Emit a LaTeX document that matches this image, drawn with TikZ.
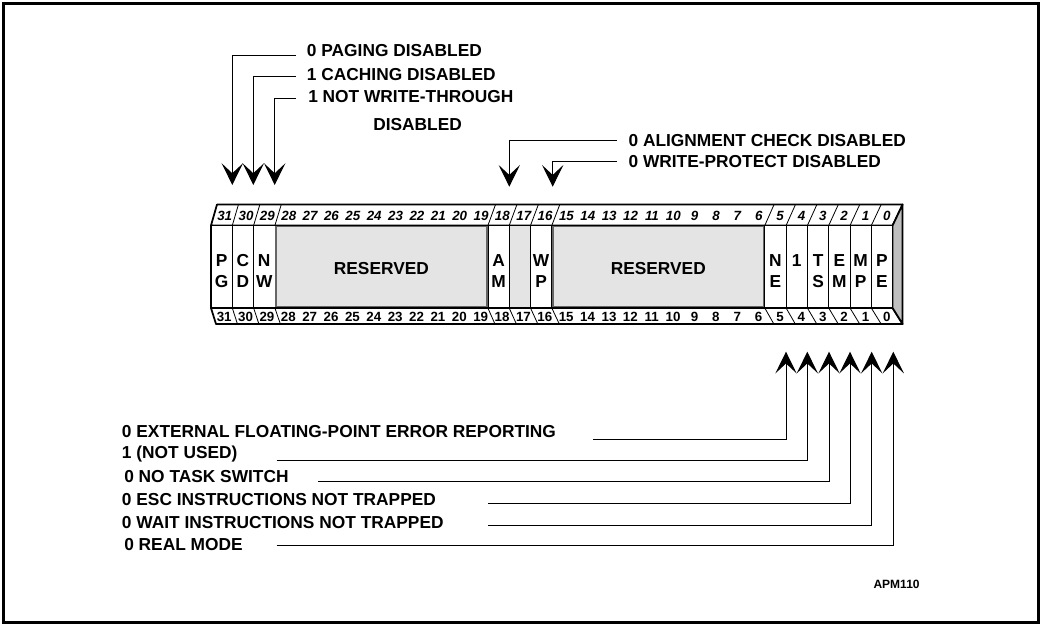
\documentclass[tikz,border=0pt]{standalone}
\usepackage{fontspec}
\setmainfont{Liberation Sans}
\usetikzlibrary{arrows.meta,calc}
\definecolor{resgray}{HTML}{E4E4E4}
\definecolor{sidegray}{HTML}{BFBFBF}
\begin{document}
\begin{tikzpicture}[x=0.75pt,y=-0.75pt,
  lbl/.style={font=\fontsize{13}{15}\selectfont\bfseries, inner sep=0pt, anchor=west},
  celltxt/.style={font=\fontsize{13}{15.6}\selectfont\bfseries, inner sep=0pt, align=center},
  cellbox/.style={draw, line width=0.6pt, minimum width=15.975pt, minimum height=61.875pt, inner sep=0pt, fill=white},
  resbox/.style={draw=black!60, line width=1.3pt, fill=resgray, minimum width=158.4pt, minimum height=60.6pt, inner sep=0pt},
  topnum/.style={font=\fontsize{10}{12}\selectfont\bfseries\itshape, inner sep=0pt},
  botnum/.style={font=\fontsize{10}{12}\selectfont\bfseries, inner sep=0pt},
  outline/.style={line width=1.3pt, line join=round},
  divider/.style={line width=0.6pt},
  arr/.style={line width=0.75pt, -{Stealth[length=16.3pt,width=16pt,inset=7.5pt]}},
]
\useasboundingbox (0,0) rectangle (1042,626);
\draw[line width=1.8pt] (3.5,3.5) rectangle (1038.5,622.5);

\def\Lx{211}
\def\Wd{21.3}
\def\Rx{892.6}

% top face, bottom face, side face
\draw[outline, fill=white] (\Lx,225.5) -- (\Lx+6,204.5) -- (\Rx+10,204.5) -- (\Rx,225.5) -- cycle;
\draw[outline, fill=white] (\Lx,308) -- (\Lx+5,324) -- (\Rx+10,324) -- (\Rx,308) -- cycle;
\draw[outline, fill=sidegray] (\Rx,225.5) -- (\Rx+10,204.5) -- (\Rx+10,324) -- (\Rx,308) -- cycle;

% front face cells
\node[cellbox] (pg) at (221.65,266.75) {};
\node[cellbox] (cd) at (242.95,266.75) {};
\node[cellbox] (nw) at (264.25,266.75) {};
\node[cellbox, minimum width=159.75pt] (resA) at (381.4,266.75) {};
\node[resbox] (resAin) at (381.4,266.75) {};
\node[cellbox] (am) at (498.55,266.75) {};
\node[cellbox, fill=resgray] (b17) at (519.85,266.75) {};
\node[cellbox] (wp) at (541.15,266.75) {};
\node[cellbox, minimum width=159.75pt] (resB) at (658.3,266.75) {};
\node[resbox] (resBin) at (658.3,266.75) {};
\node[cellbox] (ne) at (775.45,266.75) {};
\node[cellbox] (one) at (796.75,266.75) {};
\node[cellbox] (ts) at (818.05,266.75) {};
\node[cellbox] (em) at (839.35,266.75) {};
\node[cellbox] (mp) at (860.65,266.75) {};
\node[cellbox] (pe) at (881.95,266.75) {};
\draw[outline] (\Lx,225.5) rectangle (\Rx,308);

% cell texts
\node[celltxt] (tpg) at ([yshift=-3pt]pg.center) {P\\G};
\node[celltxt] (tcd) at ([yshift=-3pt]cd.center) {C\\D};
\node[celltxt] (tnw) at ([yshift=-3pt]nw.center) {N\\W};
\node[celltxt] (tresA) at ([yshift=-1.2pt]resA.center) {RESERVED};
\node[celltxt] (tam) at ([yshift=-3pt]am.center) {A\\M};
\node[celltxt] (twp) at ([yshift=-3pt]wp.center) {W\\P};
\node[celltxt] (tresB) at ([yshift=-1.2pt]resB.center) {RESERVED};
\node[celltxt] (tne) at ([yshift=-3pt]ne.center) {N\\E};
\node[celltxt] (tone) at ([yshift=-3pt]one.center) {1\\\phantom{1}};
\node[celltxt] (tts) at ([yshift=-3pt]ts.center) {T\\S};
\node[celltxt] (tem) at ([yshift=-3pt]em.center) {E\\M};
\node[celltxt] (tmp) at ([yshift=-3pt]mp.center) {M\\P};
\node[celltxt] (tpe) at ([yshift=-3pt]pe.center) {P\\E};

% strip dividers
\foreach \i in {1,2,3,13,14,15,16,26,27,28,29,30,31}{
  \pgfmathsetmacro\xa{\Lx+\i*\Wd}
  \pgfmathsetmacro\dt{6+4*\i/32}
  \pgfmathsetmacro\db{5+5*\i/32}
  \draw[divider] (\xa,225.5) -- (\xa+\dt,204.5);
  \draw[divider] (\xa,308) -- (\xa+\db,324);
}
% bit numbers
\foreach \b in {0,...,31}{
  \pgfmathsetmacro\ic{31-\b+0.5}
  \pgfmathsetmacro\xc{\Lx+\ic*\Wd}
  \pgfmathsetmacro\dt{6+4*\ic/32}
  \pgfmathsetmacro\db{5+5*\ic/32}
  \node[topnum] (tn\b) at (\xc+\dt/2,215.5) {\b};
  \node[botnum] (bn\b) at (\xc+\db/2,316.5) {\b};
}

% top labels
\node[lbl] (lPG) at (306.7,50.8) {0 PAGING DISABLED};
\node[lbl] (lCD) at (306.7,74.2) {1 CACHING DISABLED};
\node[lbl] (lNW) at (308,96.3) {1 NOT WRITE-THROUGH};
\node[lbl] (lNW2) at (373,125) {DISABLED};
\node[lbl] (lAM) at (628.3,140.8) {0 ALIGNMENT CHECK DISABLED};
\node[lbl] (lWP) at (628.3,161.7) {0 WRITE-PROTECT DISABLED};

% bottom labels
\node[lbl] (lNE) at (121.7,431.7) {0 EXTERNAL FLOATING-POINT ERROR REPORTING};
\node[lbl] (lONE) at (121.7,454) {1 (NOT USED)};
\node[lbl] (lTS) at (124,476.7) {0 NO TASK SWITCH};
\node[lbl] (lEM) at (121.7,500) {0 ESC INSTRUCTIONS NOT TRAPPED};
\node[lbl] (lMP) at (121.7,522.7) {0 WAIT INSTRUCTIONS NOT TRAPPED};
\node[lbl] (lPE) at (124,545) {0 REAL MODE};
\node[font=\fontsize{9}{11}\selectfont\bfseries, inner sep=0pt, anchor=west] (apm) at (873.3,584.2) {APM110};

% connector coordinates
\coordinate (sPG) at (296,55);
\coordinate (sCD) at (296,76.7);
\coordinate (sNW) at (296,98.3);
\coordinate (sAM) at (616.7,140.7);
\coordinate (sWP) at (616.7,161.7);
\coordinate (aPG) at (232.3,185);
\coordinate (aCD) at (253.3,185);
\coordinate (aNW) at (274.7,185);
\coordinate (aAM) at (509.3,186.7);
\coordinate (aWP) at (552.7,186.7);
\coordinate (sNE) at (593.3,439.3);
\coordinate (sONE) at (276.7,460.7);
\coordinate (sTS) at (318.3,481.7);
\coordinate (sEM) at (488.3,503.3);
\coordinate (sMP) at (488.3,525);
\coordinate (sPE) at (276.7,545);
\coordinate (aNE) at (786,351.7);
\coordinate (aONE) at (807.3,351.7);
\coordinate (aTS) at (829,351.7);
\coordinate (aEM) at (850,351.7);
\coordinate (aMP) at (871.7,351.7);
\coordinate (aPE) at (893.3,351.7);

\draw[arr] (sPG) -| (aPG);
\draw[arr] (sCD) -| (aCD);
\draw[arr] (sNW) -| (aNW);
\draw[arr] (sAM) -| (aAM);
\draw[arr] (sWP) -| (aWP);
\draw[arr] (sNE) -| (aNE);
\draw[arr] (sONE) -| (aONE);
\draw[arr] (sTS) -| (aTS);
\draw[arr] (sEM) -| (aEM);
\draw[arr] (sMP) -| (aMP);
\draw[arr] (sPE) -| (aPE);
\end{tikzpicture}
\end{document}
